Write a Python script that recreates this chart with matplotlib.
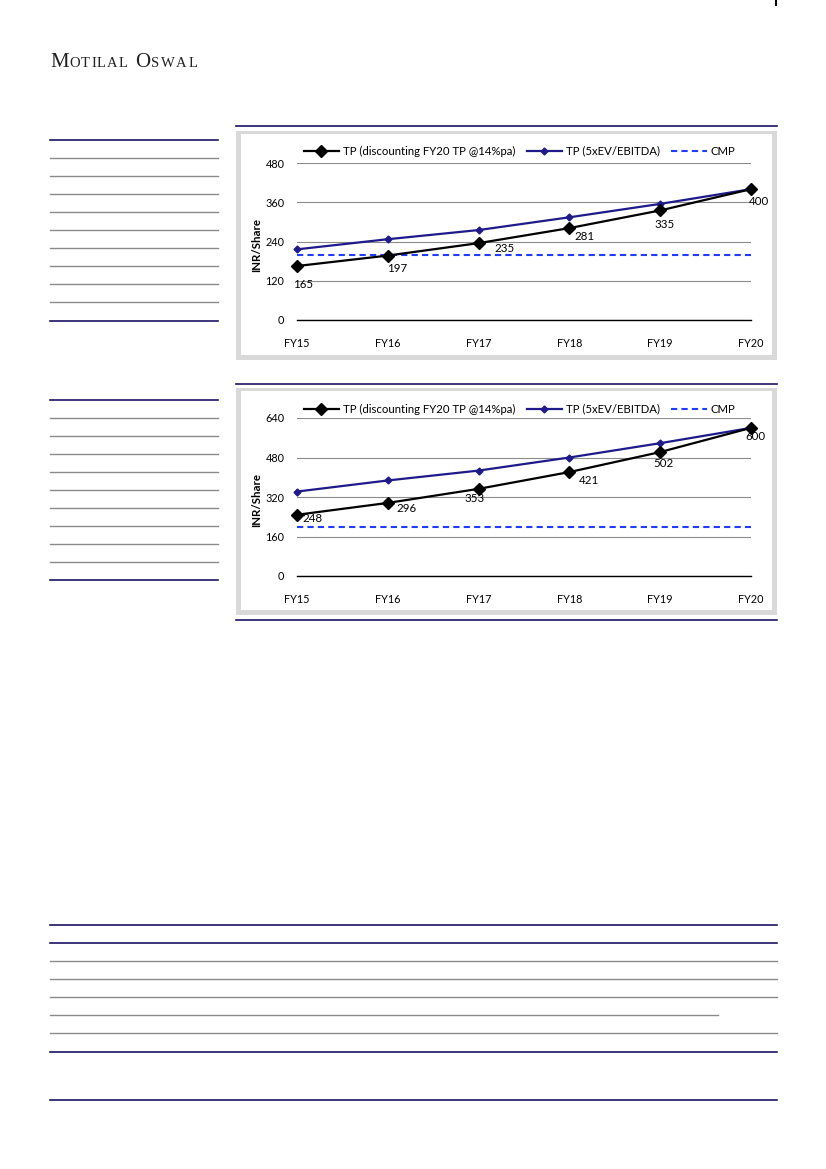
import matplotlib
matplotlib.use("Agg")
import matplotlib.pyplot as plt
from matplotlib.lines import Line2D
from matplotlib.patches import Rectangle

plt.rcParams['font.family'] = ['Lato', 'DejaVu Sans']

# data
years = ["FY15", "FY16", "FY17", "FY18", "FY19", "FY20"]
tp_disc_1 = [165, 197, 235, 281, 335, 400]
tp_ev_1 = [216, 247, 275, 314, 355, 400]
cmp_1 = 200
tp_disc_2 = [248, 296, 353, 421, 502, 600]
tp_ev_2 = [342, 387, 427, 480, 538, 600]
cmp_2 = 198

leg_labels = ["TP (discounting FY20 TP @14%pa)", "TP (5xEV/EBITDA)", "CMP"]

W, H = 826, 1169
fig = plt.figure(figsize=(W / 100, H / 100), dpi=100)
renderer = fig.canvas.get_renderer()

def fx(px):
    return px / W

def fy(py):
    return 1 - py / H

def hline(x0, x1, y, color, lw=1.2):
    fig.add_artist(Line2D([fx(x0), fx(x1)], [fy(y), fy(y)], color=color, lw=lw))

navy = "#1b1464"
grey = "#8a8a8a"

# header in small caps, letter by letter
serif = "Liberation Serif"
def spaced(x, y, word, size, track):
    for ch in word:
        t = fig.text(fx(x), fy(y), ch, fontsize=size, family=serif, va="baseline", color="#222222")
        x += t.get_window_extent(renderer).width + track
    return x

x = spaced(50, 67, "M", 15, 0.5)
x = spaced(x, 67, "OTILAL", 10.5, 1.2)
x = spaced(x + 6, 67, "O", 15, 0.5)
spaced(x, 67, "SWAL", 10.5, 1.6)
fig.add_artist(Line2D([fx(776), fx(776)], [fy(0), fy(5)], color="black", lw=1.5))

# side table rules
for top, bot in ((140, 321), (400, 580)):
    hline(50, 218, top, navy)
    for k in range(1, 10):
        hline(50, 218, top + 18 * k, grey, 1.0)
    hline(50, 218, bot, navy)

# bottom table rules
hline(50, 777, 925, navy)
hline(50, 777, 943, navy)
for y in (961, 979, 997, 1033):
    hline(50, 777, y, grey, 1.0)
hline(50, 718, 1015, grey, 1.0)
hline(50, 777, 1052, navy)
hline(50, 777, 1100, navy)


def chart(top_line, panel, axbox, disc, ev, cmp_val, ymax, step, offsets, legend_y, bottom_line=None):
    hline(236, 777, top_line, navy)
    if bottom_line:
        hline(236, 777, bottom_line, navy)
    x0, y0, x1, y1 = panel
    fig.add_artist(Rectangle((fx(x0), fy(y1)), fx(x1) - fx(x0), fy(y0) - fy(y1),
                             transform=fig.transFigure, facecolor="#d9d9d9", edgecolor="none", zorder=-2))
    fig.add_artist(Rectangle((fx(x0 + 5), fy(y1 - 5)), fx(x1 - 5) - fx(x0 + 5), fy(y0 + 3) - fy(y1 - 5),
                             transform=fig.transFigure, facecolor="white", edgecolor="none", zorder=-1))
    l, t, r, b = axbox
    ax = fig.add_axes([fx(l), fy(b), fx(r) - fx(l), fy(t) - fy(b)])
    ax.set_zorder(3)
    ax.set_facecolor("none")
    xs = list(range(len(years)))
    h1, = ax.plot(xs, disc, color="black", lw=1.6, marker="D", markersize=6, clip_on=False, zorder=4)
    h2, = ax.plot(xs, ev, color="#1f1a8a", lw=1.6, marker="D", markersize=3.5, clip_on=False, zorder=3)
    h3, = ax.plot([xs[0], xs[-1]], [cmp_val, cmp_val], color="#1f3cff", lw=1.5, ls=(0, (3, 2)), zorder=2)
    for i, v in enumerate(disc):
        ax.annotate(str(v), (xs[i], v), xytext=offsets[i], textcoords="offset pixels",
                    ha="center", va="center", fontsize=8.3)
    ax.set_xlim(0, len(years) - 1)
    ax.set_ylim(0, ymax)
    ax.set_yticks(range(0, ymax + 1, step))
    ax.set_xticks(xs)
    ax.set_xticklabels(years)
    ax.tick_params(length=0, labelsize=7.8, colors="black")
    ax.tick_params(axis="y", pad=9)
    ax.tick_params(axis="x", pad=13)
    ax.grid(axis="y", color="#8c8c8c", lw=0.8)
    ax.set_axisbelow(True)
    for s in ("top", "right", "left"):
        ax.spines[s].set_visible(False)
    ax.spines["bottom"].set_color("black")
    ax.spines["bottom"].set_linewidth(1.0)
    fig.text(fx(257), fy((t + b) / 2 + 3), "INR/Share", rotation=90, fontsize=8.3,
             fontweight="bold", ha="center", va="center")
    fig.legend([h1, h2, h3], leg_labels, loc="center left", bbox_to_anchor=(fx(298), fy(legend_y)),
               ncol=3, frameon=False, fontsize=8.2, handlelength=3.1, handletextpad=0.35,
               columnspacing=1.0, borderpad=0)


chart(126, (236, 131, 777, 360), (297, 163, 751, 320), tp_disc_1, tp_ev_1, cmp_1, 480, 120,
      [(6, -18), (9, -13), (26, -5), (15, -8), (4, -14), (8, -12)], 151)
chart(384, (236, 388, 777, 615), (297, 418, 751, 576), tp_disc_2, tp_ev_2, cmp_2, 640, 160,
      [(15, -4), (19, -6), (-4, -10), (20, -8), (3, -11), (4, -9)], 409, bottom_line=620)

fig.savefig("out.png", dpi=100)
